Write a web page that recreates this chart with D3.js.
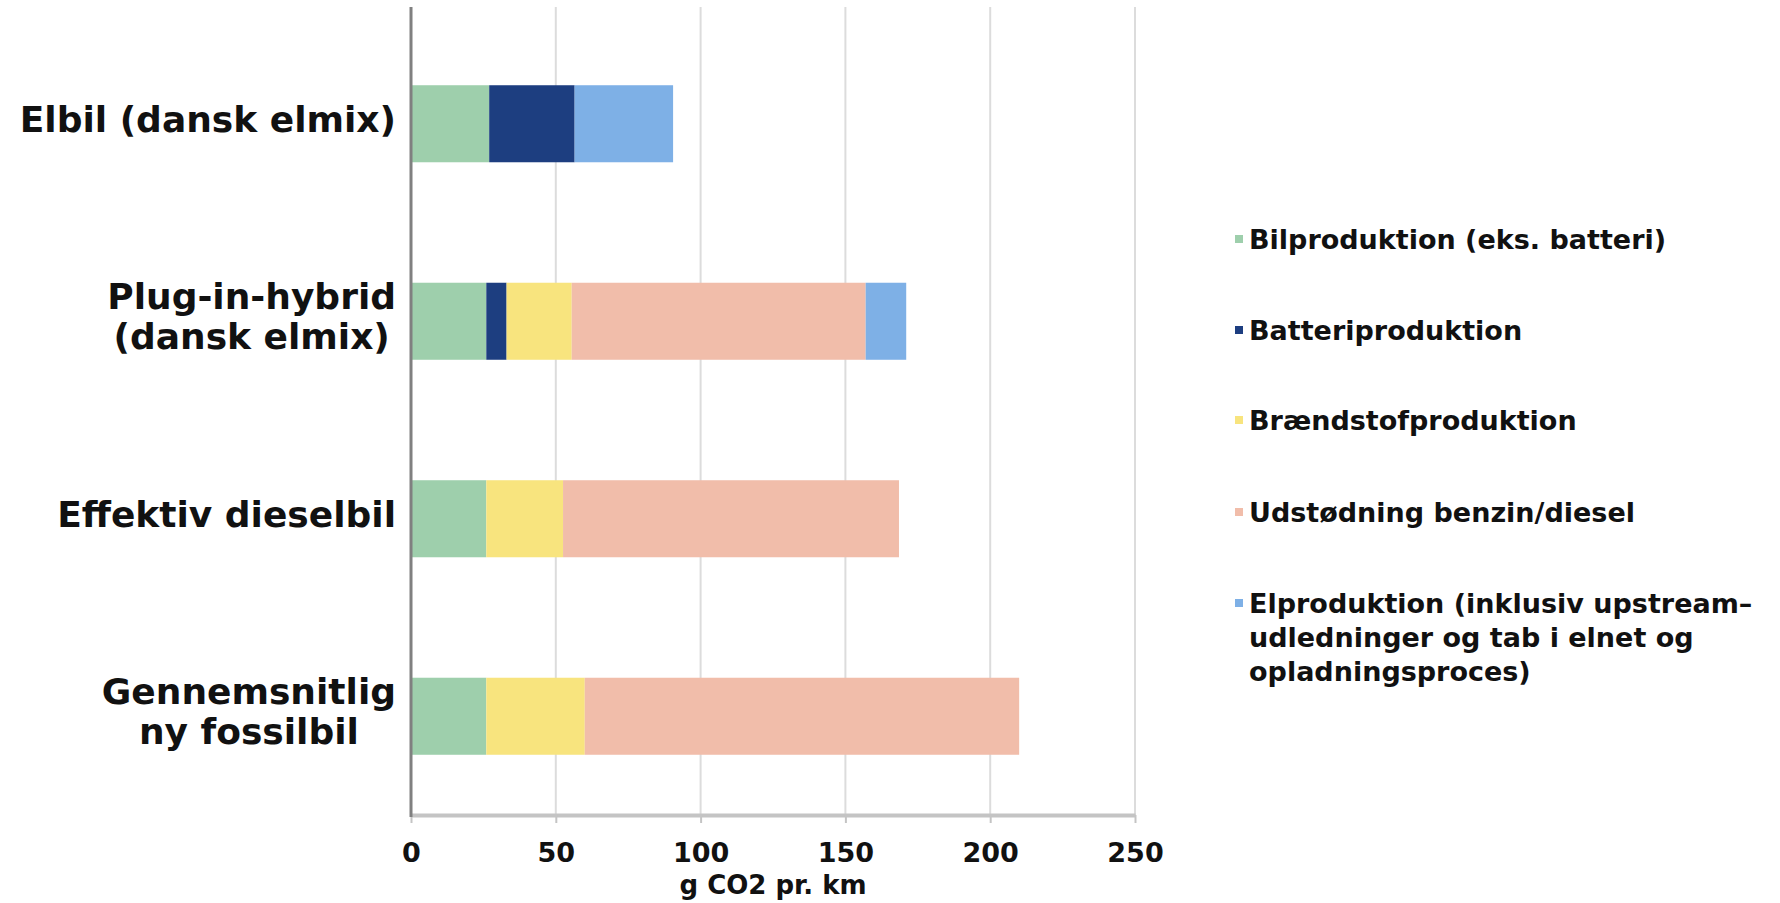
<!DOCTYPE html>
<html>
<head>
<meta charset="utf-8">
<script src="https://cdnjs.cloudflare.com/ajax/libs/d3/7.8.5/d3.min.js"></script>
<style>
  html, body { margin: 0; padding: 0; background: #fff; }
  svg text { font-family: "DejaVu Sans", Verdana, sans-serif; font-weight: bold; fill: #111; }
</style>
</head>
<body>
<div id="chart"></div>
<script>
// --- data ---
const categories = ["Elbil (dansk elmix)", "Plug-in-hybrid (dansk elmix)", "Effektiv dieselbil", "Gennemsnitlig ny fossilbil"];
const categoryLines = [["Elbil (dansk elmix)"], ["Plug-in-hybrid", "(dansk elmix)"], ["Effektiv dieselbil"], ["Gennemsnitlig", "ny fossilbil"]];
const seriesNames = ["Bilproduktion (eks. batteri)", "Batteriproduktion", "Brændstofproduktion", "Udstødning benzin/diesel", "Elproduktion (inklusiv upstream-udledninger og tab i elnet og opladningsproces)"];
const legendLines = [["Bilproduktion (eks. batteri)"], ["Batteriproduktion"], ["Brændstofproduktion"], ["Udstødning benzin/diesel"], ["Elproduktion (inklusiv upstream–", "udledninger og tab i elnet og", "opladningsproces)"]];
const bilproduktion = [27, 26, 26, 26];
const batteriproduktion = [29.5, 7, 0, 0];
const braendstof = [0, 22.5, 26.5, 34];
const udstoedning = [0, 101.5, 116, 150];
const elproduktion = [34, 14, 0, 0];
const xTicks = [0, 50, 100, 150, 200, 250];
const seriesColors = ["#9ecfac", "#1d3e80", "#f8e47e", "#f1bdaa", "#7eb0e6"];

(function(){
const W = 1780, H = 903;
const left = 411, right = 1135, top = 25, bottom = 815;

const svg = d3.select("#chart").append("svg")
    .attr("width", W).attr("height", H);

const rows = categories.map((c, i) => ({
    cat: c,
    s0: bilproduktion[i], s1: batteriproduktion[i], s2: braendstof[i], s3: udstoedning[i], s4: elproduktion[i]
}));
const keys = ["s0", "s1", "s2", "s3", "s4"];
const stacked = d3.stack().keys(keys)(rows);

const x = d3.scaleLinear().domain([0, 250]).range([left, right]);
const y = d3.scaleBand().domain(categories).range([top, bottom]).paddingInner(0.61).paddingOuter(0.305);

// gridlines
svg.append("g").selectAll("line")
    .data(xTicks.slice(1))
    .join("line")
    .attr("x1", d => x(d)).attr("x2", d => x(d))
    .attr("y1", 7).attr("y2", bottom)
    .attr("stroke", "#dcdcdc").attr("stroke-width", 2);

// bars
svg.append("g").selectAll("g")
    .data(stacked)
    .join("g")
    .attr("fill", (d, i) => seriesColors[i])
    .selectAll("rect")
    .data(d => d)
    .join("rect")
    .attr("x", d => x(d[0]))
    .attr("width", d => x(d[1]) - x(d[0]))
    .attr("y", d => y(d.data.cat))
    .attr("height", y.bandwidth());

// x axis
const xAxis = svg.append("g")
    .attr("transform", `translate(0,${bottom})`)
    .call(d3.axisBottom(x).tickValues(xTicks).tickSize(8).tickSizeOuter(0).tickPadding(20));
xAxis.select(".domain").attr("stroke", "#c4c4c4").attr("stroke-width", 4);
xAxis.selectAll(".tick line").attr("stroke", "#c4c4c4").attr("stroke-width", 2);
xAxis.selectAll(".tick text")
    .style("font-family", "'DejaVu Sans', Verdana, sans-serif")
    .style("font-weight", "bold")
    .style("font-size", "27px")
    .attr("fill", "#111");

// y axis line
svg.append("line")
    .attr("x1", left).attr("x2", left)
    .attr("y1", 7).attr("y2", bottom + 2)
    .attr("stroke", "#808080").attr("stroke-width", 3);

// axis title
svg.append("text")
    .attr("x", (left + right) / 2)
    .attr("y", 894)
    .attr("text-anchor", "middle")
    .style("font-size", "26px")
    .text("g CO2 pr. km");

// category labels
const labelRight = 396;
categoryLines.forEach((lines, i) => {
    const cy = y(categories[i]) + y.bandwidth() / 2 - 5;
    const g = svg.append("g");
    const lh = 40;
    const texts = lines.map((ln, j) => g.append("text")
        .attr("y", cy + 13 + (j - (lines.length - 1) / 2) * lh)
        .attr("text-anchor", "middle")
        .style("font-size", "36px")
        .text(ln));
    const maxW = d3.max(texts, t => t.node().getComputedTextLength());
    texts.forEach(t => t.attr("x", labelRight - maxW / 2));
});

// legend
const legendY = [239, 330, 420, 512, 637];
legendLines.forEach((lines, i) => {
    const cy = legendY[i];
    svg.append("rect")
        .attr("x", 1235).attr("y", (lines.length > 1 ? cy - 34 : cy) - 4)
        .attr("width", 8).attr("height", 8)
        .attr("fill", seriesColors[i]);
    lines.forEach((ln, j) => {
        svg.append("text")
            .attr("x", 1249)
            .attr("y", cy + 10 + (j - (lines.length - 1) / 2) * 34)
            .style("font-size", "27px")
            .text(ln);
    });
});
})();
</script>
</body>
</html>
